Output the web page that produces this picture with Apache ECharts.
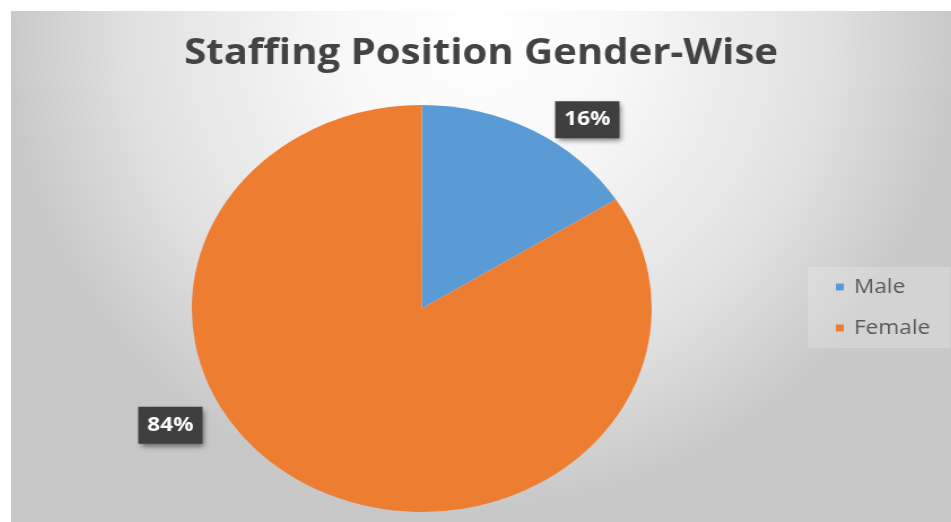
<!DOCTYPE html>
<html><head><meta charset="utf-8">
<script src="https://cdn.jsdelivr.net/npm/echarts@6/dist/echarts.min.js"></script>
<style>
html,body{margin:0;padding:0;background:#fff;width:951px;height:522px;overflow:hidden}
#bg{position:absolute;left:11px;top:11px;width:940px;height:511px;background:radial-gradient(circle 480px at 469px 20px,#ffffff 0px,#f8f8f8 140px,#ececec 250px,#e0e0e0 350px,#c9c9c9 470px,#c8c8c8 480px)}
#chart{position:absolute;left:11px;top:11px;width:832px;height:511px;transform-origin:0 0;transform:scaleX(1.13)}
</style></head><body><div id="bg"></div><div id="chart"></div>
<script>
const titleText = 'Staffing Position Gender-Wise';
const categories = ['Male', 'Female'];
const shares = [16, 84];
const colors = ['#5B9BD5', '#ED7D31'];
const labelShifts = [[96, -97], [-172, 25]];

const chart = echarts.init(document.getElementById('chart'), null, {renderer: 'canvas'});
const data = categories.map((n, i) => ({name: n, value: shares[i], itemStyle: {color: colors[i]}}));
chart.setOption({
  animation: false,
  title: {
    text: titleText, left: 'center', top: 20,
    textStyle: {fontFamily: 'Open Sans', fontWeight: 'bold', fontSize: 35.5, color: '#434343'}
  },
  legend: {
    orient: 'vertical', left: 705, top: 256, padding: [10, 18, 10, 25],
    backgroundColor: 'rgba(255,255,255,0.2)',
    icon: 'rect', itemWidth: 7, itemHeight: 7, itemGap: 21,
    textStyle: {fontFamily: 'Open Sans', fontSize: 20, lineHeight: 20, color: '#595959', padding: [0, 0, 0, 4]},
    data: categories
  },
  series: [{
    type: 'pie',
    center: [363.5, 297.5],
    radius: 203.5,
    startAngle: 90,
    clockwise: true,
    avoidLabelOverlap: false,
    emphasis: {disabled: true},
    label: {
      show: true, position: 'inside', formatter: '{c}%',
      color: '#ffffff', fontFamily: 'Open Sans', fontWeight: 'bold', fontSize: 20, lineHeight: 20,
      backgroundColor: '#3f3f3f', padding: [9, 8, 8, 8],
      shadowBlur: 5, shadowColor: 'rgba(0,0,0,0.5)', shadowOffsetX: 2, shadowOffsetY: 3
    },
    labelLine: {show: false},
    labelLayout: function (p) { const s = labelShifts[p.dataIndex]; return {dx: s[0], dy: s[1]}; },
    data: data
  }]
});
</script></body></html>
